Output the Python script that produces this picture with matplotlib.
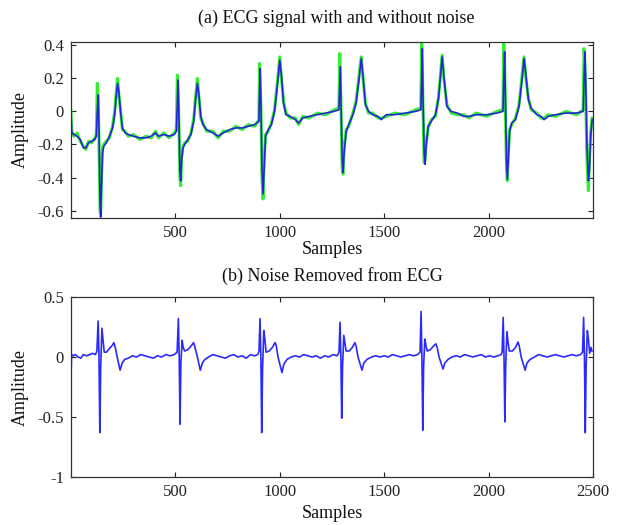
import matplotlib
matplotlib.use("Agg")
import matplotlib.pyplot as plt

plt.rcParams['font.family'] = ['Liberation Serif', 'DejaVu Serif']

# ---------------- data ----------------
# (a) ECG signal: clean (blue) and noisy (green), sample positions shared
ecg_x = [0, 5, 15, 30, 45, 60, 72, 85, 100, 115, 122, 127, 131, 135, 140, 143, 147, 152, 158, 170,
         185, 200, 210, 218, 224, 230, 238, 247, 260, 275, 300, 330, 360, 385, 405, 420, 445, 470, 495, 505,
         510, 513, 517, 522, 526, 530, 537, 545, 560, 575, 588, 598, 606, 613, 622, 632, 650, 680, 705, 730,
         760, 790, 820, 850, 880, 900, 903, 906, 910, 915, 920, 925, 932, 945, 960, 975, 988, 1000, 1008, 1018,
         1030, 1050, 1075, 1090, 1110, 1140, 1180, 1220, 1260, 1283, 1287, 1290, 1294, 1299, 1303, 1308, 1318, 1330, 1350, 1365,
         1378, 1390, 1398, 1410, 1425, 1445, 1470, 1486, 1510, 1550, 1600, 1650, 1675, 1679, 1682, 1686, 1691, 1695, 1700, 1710,
         1725, 1745, 1760, 1777, 1785, 1800, 1820, 1850, 1880, 1905, 1940, 1990, 2040, 2068, 2072, 2076, 2080, 2085, 2089, 2094,
         2100, 2110, 2128, 2145, 2160, 2169, 2178, 2190, 2203, 2230, 2250, 2265, 2285, 2320, 2370, 2420, 2452, 2456, 2460, 2464,
         2470, 2477, 2482, 2488, 2495]
ecg_clean = [0.00, -0.13, -0.14, -0.15, -0.17, -0.22, -0.22, -0.19, -0.18, -0.17, -0.15, 0.00, 0.10, -0.10, -0.55, -0.64, -0.45, -0.25, -0.21, -0.19,
             -0.15, -0.10, -0.02, 0.10, 0.17, 0.12, 0.00, -0.10, -0.13, -0.14, -0.15, -0.16, -0.16, -0.15, -0.13, -0.15, -0.14, -0.15, -0.14, -0.12,
             0.05, 0.19, 0.00, -0.35, -0.42, -0.30, -0.22, -0.20, -0.17, -0.14, -0.06, 0.08, 0.17, 0.10, -0.03, -0.08, -0.11, -0.13, -0.15, -0.13,
             -0.11, -0.10, -0.10, -0.09, -0.08, -0.06, 0.10, 0.26, 0.05, -0.35, -0.50, -0.35, -0.15, -0.11, -0.08, 0.00, 0.15, 0.31, 0.22, 0.05,
             -0.02, -0.03, -0.05, -0.07, -0.04, -0.03, -0.02, -0.01, 0.00, 0.01, 0.15, 0.27, 0.00, -0.30, -0.37, -0.25, -0.12, -0.08, -0.02, 0.05,
             0.18, 0.32, 0.22, 0.04, 0.00, -0.02, -0.03, -0.05, -0.02, -0.02, -0.01, 0.00, 0.01, 0.20, 0.38, 0.05, -0.25, -0.32, -0.22, -0.09,
             -0.06, -0.02, 0.08, 0.33, 0.22, 0.03, 0.00, -0.01, -0.03, -0.03, -0.02, -0.02, -0.01, 0.00, 0.20, 0.36, 0.05, -0.30, -0.41, -0.28,
             -0.12, -0.07, -0.05, 0.03, 0.20, 0.32, 0.22, 0.07, 0.02, -0.02, -0.03, -0.05, -0.03, -0.02, -0.01, -0.01, 0.00, 0.18, 0.36, 0.20,
             -0.20, -0.42, -0.35, -0.15, -0.05]
ecg_noisy = [0.01, -0.12, -0.15, -0.13, -0.18, -0.21, -0.23, -0.18, -0.19, -0.16, -0.14, 0.17, 0.08, -0.20, -0.60, -0.62, -0.40, -0.22, -0.20, -0.18,
             -0.16, -0.09, 0.00, 0.13, 0.20, 0.10, 0.01, -0.11, -0.12, -0.15, -0.14, -0.17, -0.15, -0.16, -0.12, -0.16, -0.13, -0.16, -0.13, -0.11,
             0.22, 0.15, -0.05, -0.40, -0.45, -0.28, -0.21, -0.19, -0.18, -0.13, -0.05, 0.10, 0.20, 0.09, -0.04, -0.07, -0.12, -0.12, -0.16, -0.12,
             -0.12, -0.09, -0.11, -0.08, -0.09, -0.05, 0.29, 0.20, 0.00, -0.40, -0.53, -0.30, -0.14, -0.12, -0.07, 0.01, 0.17, 0.33, 0.20, 0.06,
             -0.01, -0.04, -0.04, -0.08, -0.03, -0.04, -0.01, -0.02, 0.01, 0.02, 0.35, 0.22, -0.05, -0.36, -0.38, -0.22, -0.11, -0.09, -0.01, 0.06,
             0.20, 0.33, 0.21, 0.05, -0.01, -0.01, -0.04, -0.04, -0.03, -0.01, -0.02, 0.01, 0.02, 0.42, 0.30, 0.00, -0.31, -0.30, -0.20, -0.10,
             -0.05, -0.03, 0.09, 0.34, 0.20, 0.04, -0.01, -0.02, -0.02, -0.04, -0.01, -0.03, 0.00, 0.01, 0.41, 0.30, 0.00, -0.35, -0.42, -0.26,
             -0.11, -0.08, -0.04, 0.04, 0.22, 0.33, 0.20, 0.08, 0.01, -0.01, -0.04, -0.04, -0.02, -0.03, 0.00, -0.02, 0.01, 0.38, 0.30, 0.10,
             -0.30, -0.48, -0.30, -0.12, -0.04]

# (b) Noise removed from ECG
rem_x = [1, 4, 12, 22, 35, 48, 60, 75, 90, 105, 118, 125, 131, 135, 139, 143, 149, 154, 160, 170,
         185, 200, 206, 213, 222, 236, 246, 258, 275, 295, 315, 335, 355, 375, 395, 415, 435, 455, 475, 495,
         509, 515, 519, 523, 527, 533, 538, 545, 560, 575, 588, 596, 606, 620, 630, 642, 660, 680, 700, 720,
         740, 760, 780, 800, 820, 840, 860, 880, 895, 901, 906, 910, 914, 918, 924, 929, 935, 950, 965, 978,
         983, 992, 1011, 1020, 1035, 1055, 1075, 1095, 1115, 1135, 1155, 1175, 1195, 1215, 1235, 1255, 1275, 1284, 1289, 1293,
         1297, 1301, 1307, 1312, 1318, 1333, 1348, 1360, 1366, 1375, 1394, 1403, 1418, 1440, 1460, 1480, 1500, 1520, 1540, 1560,
         1580, 1600, 1620, 1640, 1660, 1672, 1677, 1681, 1685, 1689, 1695, 1700, 1706, 1721, 1736, 1748, 1754, 1763, 1782, 1791,
         1806, 1825, 1845, 1865, 1885, 1905, 1925, 1945, 1965, 1985, 2005, 2025, 2045, 2060, 2065, 2070, 2074, 2078, 2082, 2088,
         2093, 2099, 2114, 2129, 2141, 2147, 2156, 2175, 2184, 2199, 2220, 2240, 2260, 2280, 2300, 2320, 2340, 2360, 2380, 2400,
         2420, 2440, 2450, 2455, 2459, 2463, 2467, 2473, 2478, 2484, 2490, 2495]
rem_y = [-0.15, 0.02, 0.01, 0.02, 0.00, -0.01, 0.02, 0.01, 0.02, 0.03, 0.02, 0.05, 0.30, 0.00, -0.63, -0.10, 0.24, 0.15, 0.04, 0.04,
         0.07, 0.10, 0.12, 0.08, 0.00, -0.11, -0.05, -0.02, -0.01, 0.01, 0.00, 0.02, 0.01, 0.00, -0.01, 0.01, 0.00, 0.02, 0.01, 0.02,
         0.04, 0.32, 0.00, -0.56, -0.05, 0.14, 0.08, 0.05, 0.06, 0.09, 0.12, 0.07, 0.00, -0.11, -0.05, -0.02, 0.00, 0.02, 0.01, 0.00,
         -0.01, 0.01, 0.02, 0.00, 0.01, -0.01, 0.02, 0.01, 0.02, 0.05, 0.32, 0.00, -0.63, -0.10, 0.22, 0.15, 0.04, 0.05, 0.08, 0.12,
         0.10, 0.00, -0.13, -0.06, -0.02, 0.00, 0.01, 0.00, 0.02, 0.01, 0.00, 0.01, -0.01, 0.01, 0.00, 0.02, 0.01, 0.04, 0.29, 0.00,
         -0.51, -0.08, 0.18, 0.12, 0.05, 0.05, 0.08, 0.12, 0.09, 0.00, -0.11, -0.05, -0.02, 0.00, 0.01, 0.00, 0.01, 0.00, 0.02, 0.01,
         0.00, 0.01, 0.02, 0.01, 0.02, 0.04, 0.38, 0.00, -0.61, -0.08, 0.15, 0.10, 0.05, 0.06, 0.09, 0.11, 0.08, 0.00, -0.10, -0.05,
         -0.02, 0.00, 0.01, 0.00, 0.02, 0.01, 0.00, 0.01, 0.02, 0.00, 0.01, 0.00, 0.01, 0.02, 0.04, 0.33, 0.00, -0.54, -0.08, 0.21,
         0.13, 0.05, 0.05, 0.08, 0.125, 0.09, 0.00, -0.11, -0.05, -0.02, 0.00, 0.02, 0.01, 0.00, 0.01, 0.02, 0.01, 0.00, 0.01, 0.02,
         0.01, 0.02, 0.04, 0.33, 0.00, -0.63, -0.08, 0.22, 0.15, 0.03, 0.08, 0.05]

top_xticks = [500, 1000, 1500, 2000]
top_yticks = [-0.6, -0.4, -0.2, 0, 0.2, 0.4]
top_yticklabels = ['-0.6', '-0.4', '-0.2', '0', '0.2', '0.4']
bot_xticks = [500, 1000, 1500, 2000, 2500]
bot_yticks = [-1, -0.5, 0, 0.5]
bot_yticklabels = ['-1', '-0.5', '0', '0.5']

title_a = '(a) ECG signal with and without noise'
title_b = '(b) Noise Removed from ECG'

# ---------------- figure ----------------
W, H = 624, 525
fig = plt.figure(figsize=(W / 100, H / 100), dpi=100)

def px_axes(l, t, r, b):
    return fig.add_axes([l / W, 1 - b / H, (r - l) / W, (b - t) / H])

def style(ax):
    ax.tick_params(direction='in', length=3.5, width=0.8, top=True, right=True,
                   labelsize=12, pad=5, colors='#222222')
    for s in ax.spines.values():
        s.set_linewidth(0.9)
        s.set_color('#333333')

ax1 = px_axes(71, 42, 593, 218)
ax1.plot(ecg_x, ecg_noisy, color='#33ee33', lw=2.2, solid_joinstyle='round')
ax1.plot(ecg_x, ecg_clean, color='#2525d5', lw=1.2)
ax1.set_xlim(1, 2499)
ax1.set_ylim(-0.645, 0.42)
ax1.set_xticks(top_xticks)
ax1.set_yticks(top_yticks)
ax1.set_yticklabels(top_yticklabels)
style(ax1)

ax2 = px_axes(71, 297, 593, 477)
ax2.plot(rem_x, rem_y, color='#2a2aff', lw=1.2)
ax2.set_xlim(1, 2500)
ax2.set_ylim(-1, 0.5)
ax2.set_xticks(bot_xticks)
ax2.set_yticks(bot_yticks)
ax2.set_yticklabels(bot_yticklabels)
style(ax2)

fs = 13
fig.text(336 / W, 1 - 18 / H, title_a, ha='center', va='center', fontsize=fs, color='#111111')
fig.text(332 / W, 1 - 250 / H, 'Samples', ha='center', va='center', fontsize=fs, color='#111111')
fig.text(332 / W, 1 - 276 / H, title_b, ha='center', va='center', fontsize=fs, color='#111111')
fig.text(332 / W, 1 - 514 / H, 'Samples', ha='center', va='center', fontsize=fs, color='#111111')
fig.text(20 / W, 1 - 130 / H, 'Amplitude', ha='center', va='center', rotation=90, fontsize=fs, color='#111111')
fig.text(20 / W, 1 - 388 / H, 'Amplitude', ha='center', va='center', rotation=90, fontsize=fs, color='#111111')

fig.savefig('out.png', dpi=100)
